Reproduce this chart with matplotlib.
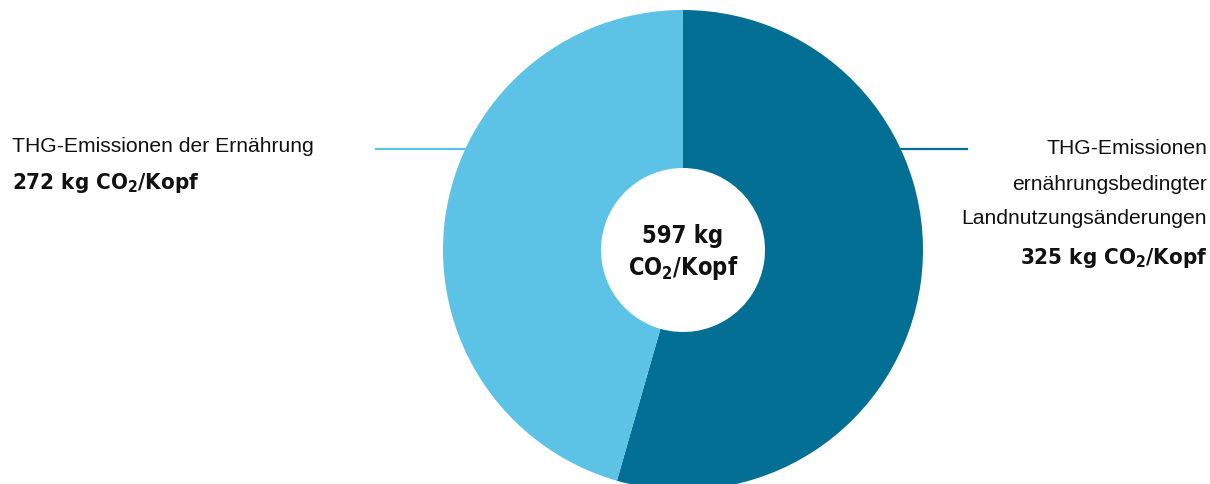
import numpy as np
import matplotlib.pyplot as plt
from matplotlib import font_manager

# Data
labels = ["THG-Emissionen der Ernährung",
          "THG-Emissionen\nernährungsbedingter\nLandnutzungsänderungen"]
values = [272, 325]                      # kg CO2 / Kopf
colors = ["#5cc3e6", "#036f94"]
total = sum(values)

# narrow bold font for the figures: DejaVu Sans Condensed if it is there
cond = [f for f in font_manager.fontManager.ttflist
        if "Condensed" in f.fname and "Bold" in f.fname and "Oblique" not in f.fname
        and "DejaVuSans" in f.fname.replace("-", "")]
stretch = "condensed" if cond else "normal"

plt.rcParams["font.family"] = ["Liberation Sans", "DejaVu Sans"]
plt.rcParams["mathtext.fontset"] = "custom"
plt.rcParams["mathtext.rm"] = f"DejaVu Sans:weight=bold:stretch={stretch}"
plt.rcParams["mathtext.bf"] = f"DejaVu Sans:weight=bold:stretch={stretch}"

W, H = 1210, 484
fig = plt.figure(figsize=(W / 100, H / 100), dpi=100)
ax = fig.add_axes([0, 0, 1, 1])

cx, cy = 683, H - 250       # pie centre in pixels
r_out, r_in = 240, 82

# leader lines (drawn under the pie)
ax.plot([376, 480], [H - 149, H - 149], color=colors[0], lw=1.6, zorder=1)
ax.plot([880, 967], [H - 149, H - 149], color=colors[1], lw=1.6, zorder=1)

# donut: dark slice from 12 o'clock clockwise
ax.pie([values[1], values[0]], colors=[colors[1], colors[0]], startangle=90,
       counterclock=False, center=(cx, cy), radius=r_out, frame=True,
       wedgeprops=dict(width=r_out - r_in, edgecolor="none", zorder=2))
ax.set_xlim(0, W)
ax.set_ylim(0, H)
ax.set_aspect("equal")
ax.axis("off")

bold = dict(family="DejaVu Sans", weight="bold", fontstretch=stretch, color="#111111")

# centre
ax.text(cx, H - 236, f"{total} kg", ha="center", va="center", fontsize=17, **bold)
ax.text(cx, H - 268, r"CO$_2$/Kopf", ha="center", va="center", fontsize=17, **bold)

# left label
ax.text(12, H - 147, labels[0], ha="left", va="center", fontsize=15.2, color="#111111")
ax.text(12, H - 183, f"{values[0]} kg CO$_2$/Kopf", ha="left", va="center",
        fontsize=16, **bold)

# right label
for i, line in enumerate(labels[1].split("\n")):
    ax.text(1207, H - (149 + 35 * i), line, ha="right", va="center",
            fontsize=15.2, color="#111111")
ax.text(1207, H - 258, f"{values[1]} kg CO$_2$/Kopf", ha="right", va="center",
        fontsize=16, **bold)

fig.savefig("out.png", dpi=100)
